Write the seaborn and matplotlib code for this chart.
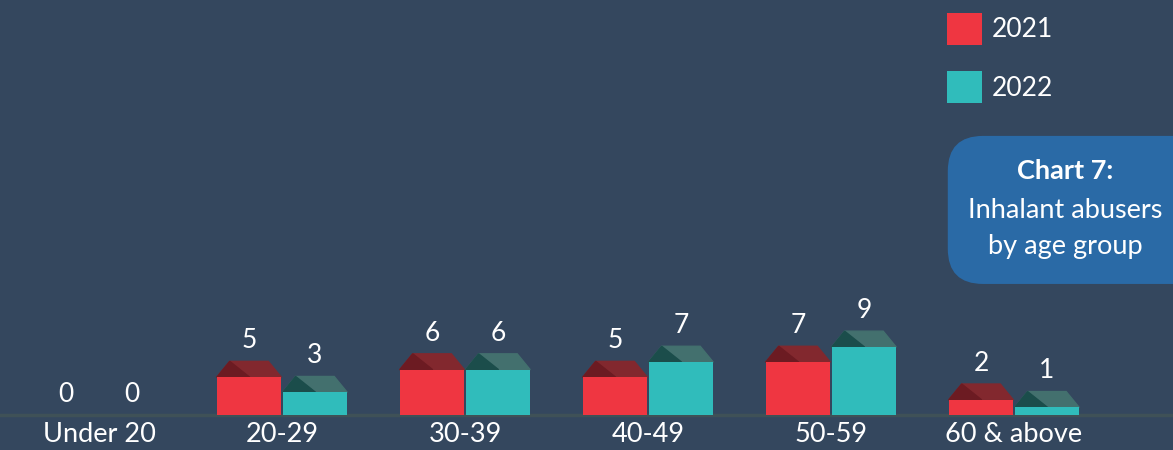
import pandas as pd
import seaborn as sns
import matplotlib.pyplot as plt
from matplotlib.patches import Polygon, Patch, FancyBboxPatch

# data
age_groups = ["Under 20", "20-29", "30-39", "40-49", "50-59", "60 & above"]
abusers_2021 = [0, 5, 6, 5, 7, 2]
abusers_2022 = [0, 3, 6, 7, 9, 1]
years = ["2021", "2022"]

bg = "#34475e"
bar_colors = {"2021": "#ef3641", "2022": "#30bcbb"}
roof_colors = {"2021": ("#82282e", "#6c1b22"), "2022": ("#43706e", "#1b4d4b")}

df = pd.DataFrame({
    "age": age_groups * 2,
    "count": abusers_2021 + abusers_2022,
    "year": ["2021"] * len(age_groups) + ["2022"] * len(age_groups),
})

plt.rcParams["font.family"] = ["Lato", "DejaVu Sans"]
fig = plt.figure(figsize=(11.73, 4.5), dpi=100, facecolor=bg)
ax = fig.add_axes([0, 0, 1, 1])
ax.set_facecolor(bg)

sns.barplot(data=df, x="age", y="count", hue="year", palette=bar_colors,
            width=0.72, gap=0.02, saturation=1, legend=False, ax=ax, zorder=3)

ax.set_xlim(-0.541, 5.869)
ax.set_ylim(-4.64, 54.97)

roof_h = 2.1
inset = 0.071
for container, year in zip(ax.containers, years):
    main, dark = roof_colors[year]
    for bar, val in zip(container, df[df.year == year]["count"]):
        x0 = bar.get_x()
        x1 = x0 + bar.get_width()
        top = bar.get_height()
        if val > 0:
            ax.add_patch(Polygon([(x0, top), (x0 + inset, top + roof_h),
                                  (x1 - inset, top + roof_h), (x1, top)],
                                 closed=True, color=main, zorder=2))
            ax.add_patch(Polygon([(x0, top), (x0 + inset, top + roof_h),
                                  (x0 + 0.18, top)],
                                 closed=True, color=dark, zorder=2))
            label_y = top + roof_h + 1.1
        else:
            label_y = 1.1
        ax.text((x0 + x1) / 2, label_y, str(val), ha="center", va="bottom",
                color="white", fontsize=19, zorder=4)

# baseline
ax.axhline(0, color="#3f5157", lw=2.5, zorder=1)

# category labels
for i, name in enumerate(age_groups):
    ax.text(i, -2.6, name, ha="center", va="center", color="white", fontsize=19.5)

ax.set_axis_off()

# legend
handles = [Patch(facecolor=bar_colors[y], label=y) for y in years]
leg = fig.legend(handles=handles, loc="upper left", bbox_to_anchor=(0.807, 0.972),
                 frameon=False, fontsize=19, handlelength=1.35, handleheight=1.5,
                 handletextpad=0.35, labelspacing=1.0, borderaxespad=0,
                 borderpad=0)
for t in leg.get_texts():
    t.set_color("white")

# chart caption box
box = FancyBboxPatch((0.808, 0.369), 0.3, 0.329, boxstyle="round,pad=0,rounding_size=0.03",
                     transform=fig.transFigure, facecolor="#2a6aa6", edgecolor="none",
                     mutation_aspect=1173 / 450)
fig.patches.append(box)
fig.text(0.908, 0.62, "Chart 7:", ha="center", va="center", color="white",
         fontsize=19.5, fontweight="bold")
fig.text(0.908, 0.533, "Inhalant abusers", ha="center", va="center", color="white",
         fontsize=19.5)
fig.text(0.908, 0.453, "by age group", ha="center", va="center", color="white",
         fontsize=19.5)

fig.savefig("out.png", dpi=100, facecolor=bg)
